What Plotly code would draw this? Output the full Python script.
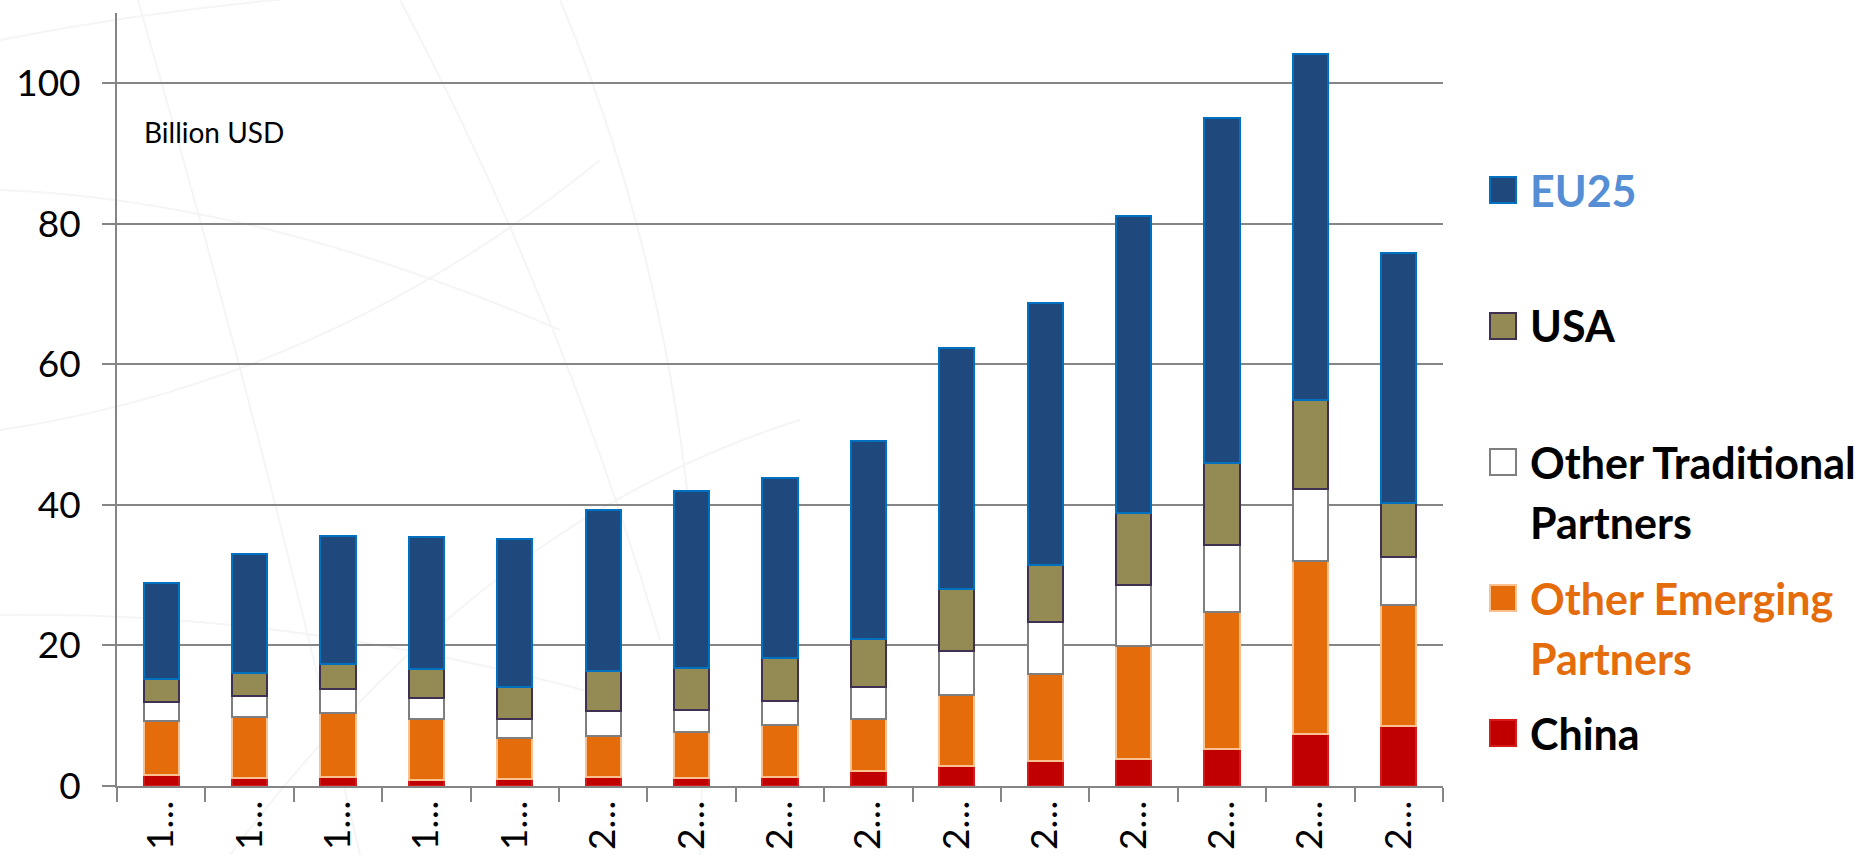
import plotly.graph_objects as go

# Tick labels along the x axis (as printed, truncated)
period_labels = ["1…", "1…", "1…", "1…", "1…",
                 "2…", "2…", "2…", "2…", "2…",
                 "2…", "2…", "2…", "2…", "2…"]

# Values in billion USD, one entry per bar
china = [1.6, 1.1, 1.25, 0.8, 0.95, 1.33, 1.14, 1.33, 2.1, 2.9, 3.6, 3.84, 5.2, 7.35, 8.53]
other_emerging = [7.7, 8.76, 9.15, 8.8, 5.95, 5.8, 6.56, 7.37, 7.4, 10.1, 12.4, 16.06, 19.55, 24.65, 17.2]
other_traditional = [2.65, 2.94, 3.4, 2.9, 2.6, 3.55, 3.1, 3.4, 4.6, 6.25, 7.4, 8.7, 9.55, 10.3, 6.85]
usa = [3.25, 3.3, 3.55, 4.1, 4.6, 5.7, 6.0, 6.1, 6.8, 8.75, 8.0, 10.3, 11.6, 12.6, 7.7]
eu25 = [13.7, 16.9, 18.25, 18.8, 21.0, 22.9, 25.2, 25.6, 28.2, 34.4, 37.4, 42.15, 49.1, 49.3, 35.5]

# Series listed bottom of the stack first; legend labels split into lines
series_names = ["China", "Other Emerging Partners", "Other Traditional Partners", "USA", "EU25"]
legend_lines = [["China"], ["Other Emerging", "Partners"], ["Other Traditional", "Partners"],
                ["USA"], ["EU25"]]
series_values = [china, other_emerging, other_traditional, usa, eu25]
fill_colors = ["#C00000", "#E46C0A", "#FFFFFF", "#948A54", "#1F497D"]
edge_colors = ["#D41A1A", "#FAC090", "#7F7F7F", "#403152", "#0070C0"]
label_colors = ["#000000", "#E46C0A", "#000000", "#000000", "#558ED5"]

W, H = 1873, 855
M_L, M_R, M_T, M_B = 117, 430, 13, 69
PLOT_W = W - M_L - M_R
PLOT_H = H - M_T - M_B

FONT = "Lato, Open Sans, sans-serif"
GRID = "#858585"
WATERMARK = "#F5F5F5"

positions = list(range(len(period_labels)))

fig = go.Figure()
for name, vals, fc, ec in zip(series_names, series_values, fill_colors, edge_colors):
    fig.add_trace(go.Bar(
        x=positions, y=vals, name=name,
        marker=dict(color=fc, line=dict(color=ec, width=2)),
        width=0.4, showlegend=False,
    ))


def px_x(px):
    return (px - M_L) / PLOT_W


def px_y(py):
    return (H - M_B - py) / PLOT_H


def curve(p0, c, p1):
    """Quadratic curve path in paper coordinates from pixel points."""
    return "M {:.4f},{:.4f} Q {:.4f},{:.4f} {:.4f},{:.4f}".format(
        px_x(p0[0]), px_y(p0[1]), px_x(c[0]), px_y(c[1]), px_x(p1[0]), px_y(p1[1]))


# Faint globe watermark behind the plot
watermark_curves = [
    ((138, 0), (260, 420), (360, 855)),
    ((400, 0), (560, 300), (660, 640)),
    ((560, 0), (720, 380), (700, 855)),
    ((0, 190), (260, 200), (560, 330)),
    ((0, 430), (330, 380), (600, 160)),
    ((0, 615), (300, 610), (620, 700)),
    ((0, 40), (200, 0), (420, -10)),
    ((230, 855), (480, 520), (800, 420)),
]
for p0, c, p1 in watermark_curves:
    fig.add_shape(type="path", xref="paper", yref="paper", path=curve(p0, c, p1),
                  line=dict(color=WATERMARK, width=2), layer="below")

# Legend on the right, top item first; swatch aligned with the first text line
legend_centers = [190, 326, 462, 598, 733]
LINE_STEP = 60
for i, cy in enumerate(legend_centers):
    k = len(series_names) - 1 - i
    fig.add_shape(type="rect", xref="paper", yref="paper",
                  x0=px_x(1490), x1=px_x(1516), y0=px_y(cy + 13), y1=px_y(cy - 13),
                  fillcolor=fill_colors[k], line=dict(color=edge_colors[k], width=2))
    for j, line in enumerate(legend_lines[k]):
        fig.add_annotation(xref="paper", yref="paper", x=px_x(1528), y=px_y(cy + j * LINE_STEP),
                           xanchor="left", yanchor="middle", align="left",
                           text="<b>" + line + "</b>", showarrow=False,
                           font=dict(family=FONT, size=43, color=label_colors[k]))

fig.add_annotation(xref="x domain", yref="y", x=px_x(142), y=93,
                   xanchor="left", yanchor="middle", text="Billion USD",
                   showarrow=False, font=dict(family=FONT, size=28, color="#000000"))

fig.update_layout(
    width=W, height=H,
    margin=dict(l=M_L, r=M_R, t=M_T, b=M_B, pad=0),
    barmode="stack",
    plot_bgcolor="rgba(0,0,0,0)", paper_bgcolor="#FFFFFF",
    font=dict(family=FONT, color="#000000"),
)
fig.update_xaxes(
    range=[-0.5, len(period_labels) - 0.5], automargin=False,
    tickvals=positions, ticktext=period_labels, tickangle=-90,
    ticks="", showgrid=False, zeroline=False,
    showline=True, linecolor=GRID, linewidth=2,
    tickfont=dict(family=FONT, size=37, color="#000000"),
    ticklabelstandoff=-2,
    minor=dict(tickvals=[p - 0.5 for p in positions] + [positions[-1] + 0.5],
               ticks="outside", ticklen=14, tickwidth=2, tickcolor=GRID, showgrid=False),
)
fig.update_yaxes(
    range=[0, 110], tickvals=[0, 20, 40, 60, 80, 100], automargin=False,
    showgrid=True, gridcolor=GRID, gridwidth=2, zeroline=False,
    showline=True, linecolor=GRID, linewidth=2,
    ticks="outside", ticklen=13, tickwidth=2, tickcolor=GRID,
    tickfont=dict(family=FONT, size=37, color="#000000"),
    ticklabelstandoff=14,
)

fig.write_html("out.html")
